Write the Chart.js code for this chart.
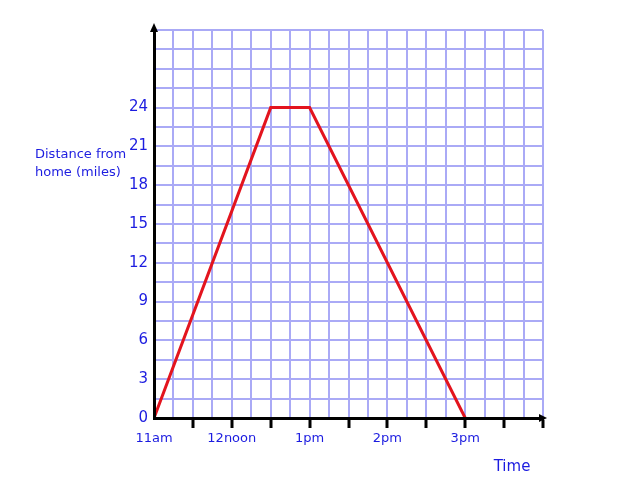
<!DOCTYPE html>
<html>
<head>
<meta charset="utf-8">
<script src="https://cdn.jsdelivr.net/npm/chart.js@4"></script>
<style>
  html, body { margin: 0; padding: 0; background: #fff; }
  #wrap { width: 626px; height: 484px; }
</style>
</head>
<body>
<div id="wrap"><canvas id="journeyChart"></canvas></div>
<script>
// journey: hours since midnight vs miles from home
const timeHours = [11, 12.5, 13, 15];
const distanceMiles = [0, 24, 24, 0];
const hourLabels = { 11: '11am', 12: '12noon', 13: '1pm', 14: '2pm', 15: '3pm' };
const distanceTicks = [0, 3, 6, 9, 12, 15, 18, 21, 24];

const FONT = "'Comic Sans MS', 'DejaVu Sans', sans-serif";
const BLUE = '#1c1ce0';
const GRID = '#aaaaf6';

// arrows on the axes + the axis captions
const extras = {
    id: 'extras',
    afterDraw(chart) {
        const { ctx, chartArea: a } = chart;
        ctx.save();
        ctx.fillStyle = '#000';
        ctx.beginPath();
        ctx.moveTo(a.left, a.top - 7);
        ctx.lineTo(a.left - 4, a.top + 2);
        ctx.lineTo(a.left + 4, a.top + 2);
        ctx.closePath();
        ctx.fill();
        ctx.beginPath();
        ctx.moveTo(a.right + 4, a.bottom);
        ctx.lineTo(a.right - 4, a.bottom - 4);
        ctx.lineTo(a.right - 4, a.bottom + 4);
        ctx.closePath();
        ctx.fill();

        ctx.fillStyle = BLUE;
        ctx.font = '13px ' + FONT;
        ctx.textAlign = 'left';
        ctx.textBaseline = 'middle';
        ctx.fillText('Distance from', 35, 155);
        ctx.fillText('home (miles)', 35, 173);

        ctx.font = '15px ' + FONT;
        ctx.textAlign = 'center';
        ctx.fillText('Time', 512, 467);
        ctx.restore();
    }
};

const ctx = document.getElementById('journeyChart').getContext('2d');
new Chart(ctx, {
    type: 'line',
    data: {
        datasets: [{
            data: timeHours.map((t, i) => ({ x: t, y: distanceMiles[i] })),
            borderColor: '#e3141e',
            borderWidth: 3,
            pointRadius: 0,
            tension: 0,
            fill: false,
        }],
    },
    options: {
        responsive: true,
        maintainAspectRatio: false,
        animation: false,
        layout: { padding: { top: 30, right: 83, left: 0, bottom: 0 } },
        plugins: { legend: { display: false }, tooltip: { enabled: false } },
        scales: {
            x: {
                type: 'linear',
                min: 11,
                max: 16,
                afterBuildTicks: (scale) => {
                    scale.ticks = [];
                    for (let v = 11; v <= 16.001; v += 0.25) scale.ticks.push({ value: v });
                },
                afterFit: (scale) => { scale.height = 66; },
                border: { color: '#000', width: 3, z: 1 },
                grid: {
                    color: GRID,
                    lineWidth: 2,
                    drawTicks: true,
                    tickLength: 10,
                    tickWidth: 3,
                    tickColor: (c) => (Math.abs(c.tick.value * 2 - Math.round(c.tick.value * 2)) < 1e-6 && c.tick.value > 11 ? '#000' : 'rgba(0,0,0,0)'),
                },
                ticks: {
                    autoSkip: false,
                    maxRotation: 0,
                    padding: 3,
                    color: BLUE,
                    font: { family: FONT, size: 13 },
                    callback: (v) => hourLabels[v] || '',
                },
            },
            y: {
                type: 'linear',
                min: 0,
                max: 30,
                afterBuildTicks: (scale) => {
                    scale.ticks = [];
                    for (let v = 0; v <= 30.001; v += 1.5) scale.ticks.push({ value: v });
                },
                afterFit: (scale) => { scale.width = 154; },
                border: { color: '#000', width: 3, z: 1 },
                grid: { color: GRID, lineWidth: 2, drawTicks: false },
                ticks: {
                    autoSkip: false,
                    padding: 6,
                    color: BLUE,
                    font: { family: FONT, size: 15 },
                    callback: (v) => (distanceTicks.includes(v) ? String(v) : ''),
                },
            },
        },
    },
    plugins: [extras],
});
</script>
</body>
</html>
